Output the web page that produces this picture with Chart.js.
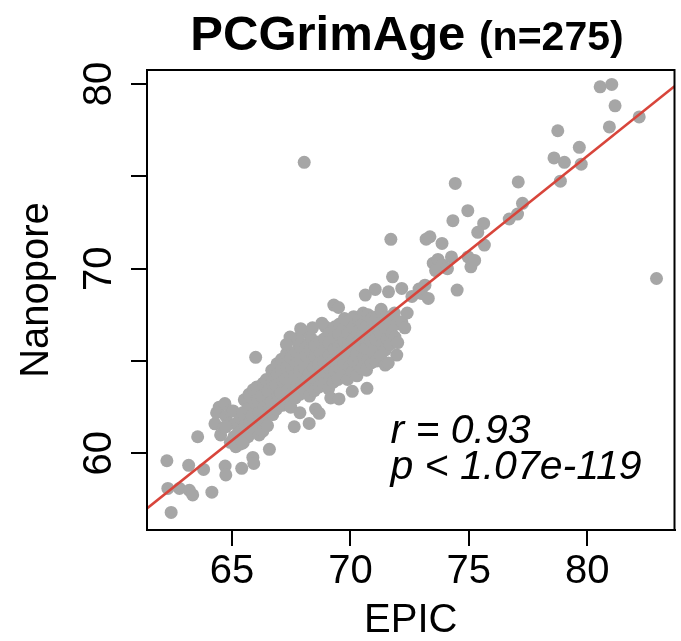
<!DOCTYPE html>
<html>
<head>
<meta charset="utf-8">
<script src="https://cdn.jsdelivr.net/npm/chart.js@4.4.1/dist/chart.umd.min.js"></script>
<style>
  html, body { margin: 0; padding: 0; background: #fff; }
  #wrap { width: 681px; height: 641px; }
</style>
</head>
<body>
<div id="wrap"><canvas id="chart" width="681" height="641"></canvas></div>
<script>
const FONT = "'Liberation Sans', Arial, sans-serif";

const xTicks = [65, 70, 75, 80];
const yTicks = [60, 65, 70, 75, 80];
const yLabels = [60, 70, 80];
const xRange = [61.41, 83.69];
const yRange = [55.85, 80.76];
const fit = { slope: 1.026, intercept: -5.99 };
const titleMain = "PCGrimAge";
const titleSub = "(n=275)";
const statLines = ["r = 0.93", "p < 1.07e-119"];

// EPIC vs Nanopore, one pair per sample
const outliers = [
  [62.43,56.8],[62.25,59.6],[62.29,58.1],[62.78,58.1],[63.2,58.0],[63.34,57.75],[63.17,59.35],
  [63.8,59.13],[64.15,57.9],[63.55,60.9],[64.71,59.31],[64.74,58.83],[65.41,59.19],[65.88,59.78],
  [65.92,59.45],[66.58,60.22],[66.0,65.2],[68.05,75.76],[64.74,61.44],[65.16,60.36],[65.44,60.55],
  [67.63,61.44],[68.26,61.62],[68.68,62.17],[69.17,63.0],[69.52,62.95],[70.08,63.36],[70.7,63.52],
  [71.47,64.78],[71.96,65.32],[72.17,67.13],[69.3,68.03],[67.77,66.23],
  [67.45,66.3],[67.9,66.75],[68.4,66.8],[68.8,67.05],[67.3,65.9]
];
const upper = [
  [80.55,79.85],[81.04,79.98],[81.18,78.82],[82.2,78.22],[80.94,77.68],[78.76,77.47],[79.67,76.57],
  [78.6,76.0],[79.04,75.76],[79.75,75.66],[78.87,74.74],[77.09,74.7],[77.27,73.54],[77.06,72.96],
  [76.71,72.69],[74.43,74.62],[74.96,73.14],[74.33,72.6],[75.63,72.45],[75.38,71.97],[75.66,71.28],
  [73.36,71.73],[73.87,71.37],[82.93,69.47],[74.51,68.84],[71.71,71.59],[73.2,71.6],[74.27,70.64],
  [74.97,70.64],[75.09,70.1],[75.25,70.45],[73.5,70.3],[73.7,70.5],[73.9,70.2],[73.6,69.9],
  [74.1,70.0],[73.0,68.66],[73.29,68.39],[73.15,69.11],[72.9,68.9],[71.78,69.56],[69.5,67.9],
  [72.17,68.93],[71.05,68.88],[71.61,68.75],[70.63,68.57],[72.6,68.5],[72.4,67.6],[72.3,66.8],
  [72.0,66.0],[71.6,64.9]
];
const core = [
  [64.28,61.6],[64.35,62.2],[64.52,61.0],[64.46,62.5],
  [64.66,61.4],[64.75,62.0],[64.7,62.7],[64.93,60.6],[64.86,61.6],[64.95,62.3],
  [65.08,60.9],[65.15,61.6],[65.05,62.3],[65.33,60.5],[65.26,61.1],[65.35,61.9],
  [65.48,60.6],[65.55,61.5],[65.45,62.2],[65.52,62.9],
  [65.68,60.9],[65.74,61.65],[65.66,62.4],[65.72,63.2],
  [65.93,61.35],[65.86,62.05],[65.95,62.75],[65.9,63.45],
  [66.06,61.6],[66.14,62.2],[66.1,62.9],[66.05,63.6],[66.15,61.0],
  [66.28,61.8],[66.34,62.55],[66.26,63.1],[66.32,63.8],[66.3,61.2],
  [66.47,62.1],[66.55,62.7],[66.52,63.35],[66.45,64.0],[66.5,61.5],
  [66.72,62.1],[66.66,62.75],[66.74,63.3],[66.7,63.85],[66.68,64.5],
  [66.88,62.4],[66.95,63.1],[66.86,63.7],[66.92,64.3],[66.9,64.85],
  [67.12,62.6],[67.05,63.25],[67.15,63.9],[67.08,64.5],[67.1,65.1],
  [67.28,62.8],[67.35,63.4],[67.26,64.05],[67.32,64.7],[67.3,65.4],
  [67.48,62.5],[67.55,63.3],[67.46,63.95],[67.52,64.6],[67.5,65.2],
  [67.68,63.0],[67.74,63.6],[67.66,64.2],[67.72,64.85],[67.7,65.5],[67.75,66.1],
  [67.88,63.2],[67.95,63.8],[67.86,64.45],[67.92,65.1],[67.9,65.7],[67.87,62.2],
  [68.08,63.4],[68.15,64.0],[68.06,64.6],[68.12,65.3],[68.1,65.9],[68.14,66.55],
  [68.28,63.1],[68.34,63.7],[68.26,64.3],[68.32,64.95],[68.3,65.6],[68.35,66.2],
  [68.48,63.4],[68.55,64.0],[68.46,64.65],[68.52,65.25],[68.5,65.85],[68.53,62.4],
  [68.68,63.6],[68.74,64.2],[68.66,64.8],[68.72,65.45],[68.7,66.05],
  [68.88,63.8],[68.95,64.4],[68.86,65.0],[68.92,65.6],[68.9,66.2],[68.94,66.85],
  [69.08,63.5],[69.15,64.1],[69.06,64.7],[69.12,65.35],[69.1,65.95],[69.14,66.55],
  [69.28,63.85],[69.34,64.45],[69.26,65.05],[69.32,65.65],[69.3,66.25],[69.35,66.85],
  [69.48,64.0],[69.55,64.6],[69.46,65.2],[69.52,65.8],[69.5,66.45],[69.54,67.0],
  [69.68,64.3],[69.74,64.9],[69.66,65.5],[69.72,66.1],[69.7,66.7],[69.75,67.3],
  [69.88,64.0],[69.95,64.7],[69.86,65.3],[69.92,65.9],[69.9,66.5],[69.94,67.15],
  [70.08,64.4],[70.15,65.0],[70.06,65.6],[70.12,66.2],[70.1,66.8],[70.14,67.4],
  [70.28,64.2],[70.34,64.8],[70.26,65.4],[70.32,66.0],[70.3,66.6],[70.35,67.2],
  [70.48,64.6],[70.55,65.2],[70.46,65.8],[70.52,66.4],[70.5,67.0],[70.54,67.6],
  [70.68,64.5],[70.74,65.1],[70.66,65.7],[70.72,66.3],[70.7,66.9],[70.75,67.5],
  [70.88,64.9],[70.95,65.5],[70.86,66.1],[70.92,66.7],[70.9,67.3],
  [71.08,65.0],[71.15,65.6],[71.06,66.2],[71.12,66.8],[71.1,67.4],
  [71.28,65.3],[71.34,65.9],[71.26,66.5],[71.32,67.1],[71.3,67.8],
  [71.48,65.6],[71.55,66.2],[71.46,66.8],[71.52,67.4],
  [71.68,65.9],[71.74,66.5],[71.66,67.2],
  [71.88,66.3],[71.95,67.0],[71.86,67.6]
];

const samples = [...core, ...outliers, ...upper].map(p => ({ x: p[0], y: p[1] }));
const fitLine = xRange.map(x => ({ x: x, y: fit.intercept + fit.slope * x }));

const decor = {
  id: "decor",
  afterDraw(chart) {
    const { ctx, chartArea: a, scales } = chart;
    ctx.save();
    ctx.strokeStyle = "#000";
    ctx.lineWidth = 2;
    ctx.strokeRect(a.left, a.top, a.right - a.left, a.bottom - a.top);

    ctx.fillStyle = "#000";
    ctx.textAlign = "center";
    ctx.textBaseline = "alphabetic";
    ctx.font = "40px " + FONT;
    yLabels.forEach(v => {
      ctx.save();
      ctx.translate(111, scales.y.getPixelForValue(v));
      ctx.rotate(-Math.PI / 2);
      ctx.fillText(String(v), 0, 0);
      ctx.restore();
    });
    ctx.save();
    ctx.translate(48, 290);
    ctx.rotate(-Math.PI / 2);
    ctx.fillText("Nanopore", 0, 0);
    ctx.restore();

    // title with two sizes
    ctx.textAlign = "left";
    ctx.font = "bold 49px " + FONT;
    const w1 = ctx.measureText(titleMain + " ").width;
    ctx.font = "bold 41px " + FONT;
    const w2 = ctx.measureText(titleSub).width;
    const x0 = 407 - (w1 + w2) / 2;
    ctx.font = "bold 49px " + FONT;
    ctx.fillText(titleMain, x0, 50);
    ctx.font = "bold 41px " + FONT;
    ctx.fillText(titleSub, x0 + w1, 50);

    ctx.font = "italic 41px " + FONT;
    const sx = scales.x.getPixelForValue(71.69);
    ctx.fillText(statLines[0], sx, scales.y.getPixelForValue(60.56));
    ctx.fillText(statLines[1], sx, scales.y.getPixelForValue(58.6));
    ctx.restore();
  }
};

const axisGrid = { display: true, drawOnChartArea: false, drawTicks: true, tickLength: 16, color: "#000", lineWidth: 2 };

new Chart(document.getElementById("chart"), {
  type: "scatter",
  data: {
    datasets: [
      { type: "line", data: fitLine, borderColor: "#d8453b", borderWidth: 2.5, pointRadius: 0, order: 0 },
      { data: samples, backgroundColor: "#a6a6a6", borderWidth: 0, pointRadius: 6.5, pointHoverRadius: 6.5, order: 1 }
    ]
  },
  options: {
    responsive: false,
    animation: false,
    devicePixelRatio: 1,
    layout: { padding: { top: 70, right: 3, bottom: 0, left: 0 } },
    plugins: { legend: { display: false }, tooltip: { enabled: false } },
    scales: {
      x: {
        type: "linear", min: xRange[0], max: xRange[1],
        afterBuildTicks: s => { s.ticks = xTicks.map(v => ({ value: v })); },
        afterFit: s => { s.height = 111; },
        grid: axisGrid,
        border: { display: true, color: "#000", width: 2 },
        ticks: { color: "#000", font: { family: FONT, size: 40 }, padding: 2, maxRotation: 0 },
        title: { display: true, text: "EPIC", color: "#000", font: { family: FONT, size: 40, lineHeight: 1 }, padding: 0 }
      },
      y: {
        type: "linear", min: yRange[0], max: yRange[1],
        afterBuildTicks: s => { s.ticks = yTicks.map(v => ({ value: v })); },
        afterFit: s => { s.width = 147; },
        grid: axisGrid,
        border: { display: true, color: "#000", width: 2 },
        ticks: { display: false }
      }
    }
  },
  plugins: [decor]
});
</script>
</body>
</html>
